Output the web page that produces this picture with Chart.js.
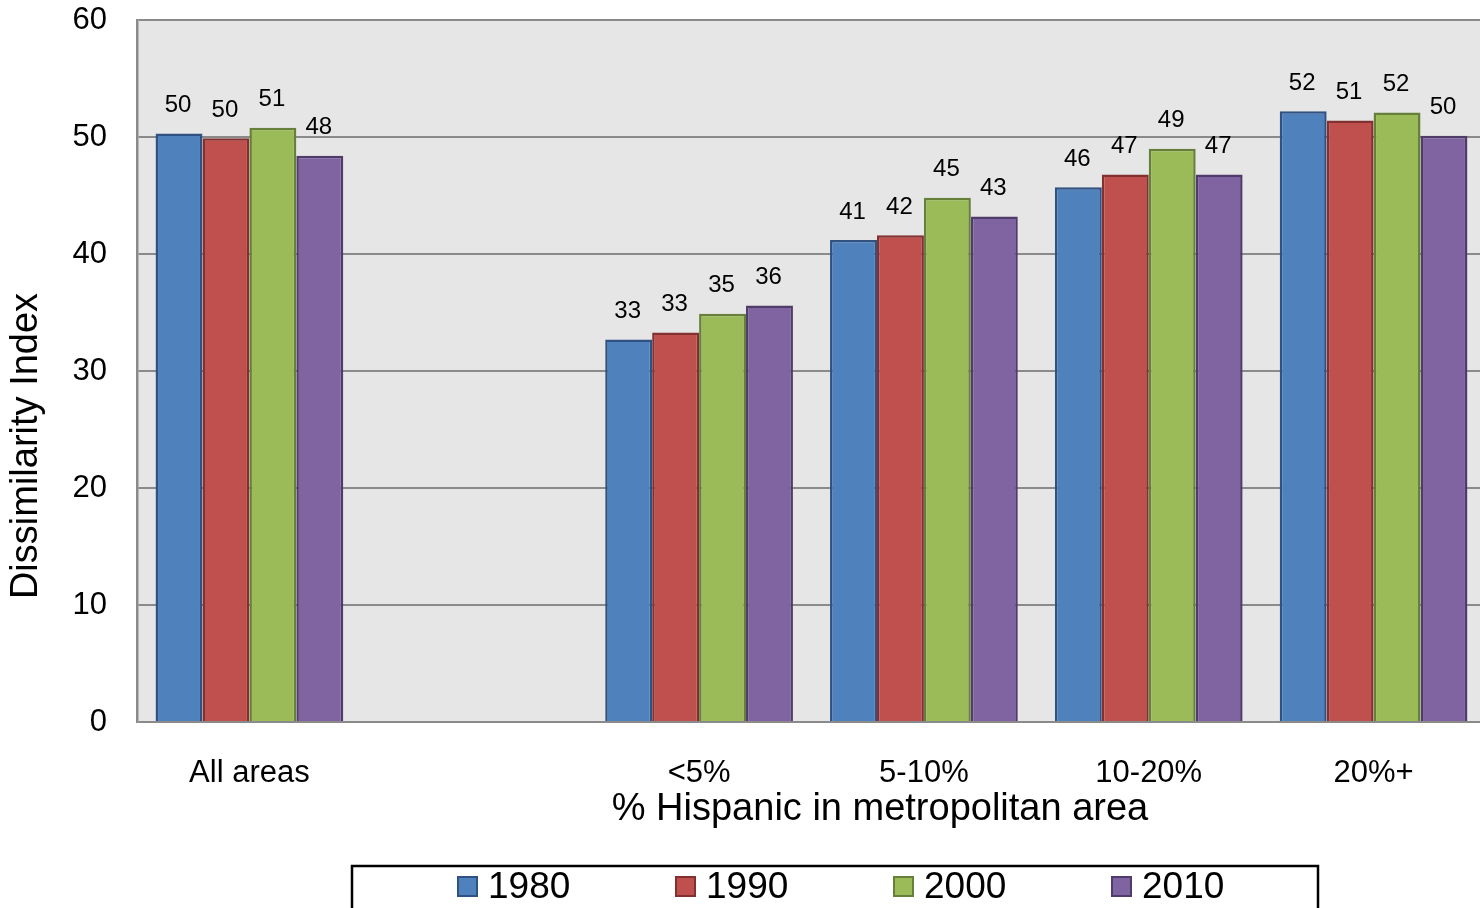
<!DOCTYPE html>
<html>
<head>
<meta charset="utf-8">
<script src="https://cdn.jsdelivr.net/npm/chart.js@4.4.1/dist/chart.umd.min.js"></script>
<style>
  html, body { margin: 0; padding: 0; background: #ffffff; overflow: hidden; width: 1480px; height: 908px; }
  canvas { display: block; }
</style>
</head>
<body>
<canvas id="c" width="1486" height="940"></canvas>
<script>
// Residential dissimilarity index by share of Hispanic population in metro area
const categories = ['All areas', '', '<5%', '5-10%', '10-20%', '20%+'];
const years = ['1980', '1990', '2000', '2010'];
const v1980 = [50.3, null, 32.7, 41.2, 45.7, 52.2];
const v1990 = [49.9, null, 33.3, 41.6, 46.8, 51.4];
const v2000 = [50.8, null, 34.9, 44.8, 49.0, 52.1];
const v2010 = [48.4, null, 35.6, 43.2, 46.8, 50.1];
const yTicks = [0, 10, 20, 30, 40, 50, 60];
const yTitle = 'Dissimilarity Index';
const xTitle = '% Hispanic in metropolitan area';

const fills = ['#4F81BD', '#C0504D', '#9BBB59', '#8064A2'];
const edges = ['#2F5283', '#833130', '#66803A', '#4F3C6A'];
const FONT = '"Liberation Sans", Arial, sans-serif';

const series = [v1980, v1990, v2000, v2010];

// grey plot background behind grid and bars
const plotBackground = {
  id: 'plotBackground',
  beforeDraw(chart) {
    const { ctx, chartArea: a } = chart;
    ctx.save();
    ctx.fillStyle = '#E6E6E6';
    ctx.fillRect(a.left, a.top, a.right - a.left, a.bottom - a.top);
    ctx.restore();
  }
};

// rounded value printed above every bar
const valueLabels = {
  id: 'valueLabels',
  afterDatasetsDraw(chart) {
    const { ctx } = chart;
    ctx.save();
    ctx.font = '24px ' + FONT;
    ctx.fillStyle = '#000000';
    ctx.textAlign = 'center';
    ctx.textBaseline = 'middle';
    chart.data.datasets.forEach((ds, i) => {
      chart.getDatasetMeta(i).data.forEach((bar, j) => {
        const v = ds.data[j];
        if (v === null || v === undefined) return;
        ctx.fillText(String(Math.round(v)), bar.x - 1, bar.y - 28);
      });
    });
    ctx.restore();
  }
};

// axis titles and the framed legend underneath
const titlesAndLegend = {
  id: 'titlesAndLegend',
  afterDraw(chart) {
    const { ctx } = chart;
    ctx.save();
    ctx.fillStyle = '#000000';
    ctx.textAlign = 'center';
    ctx.textBaseline = 'middle';
    ctx.font = '38px ' + FONT;
    ctx.fillText(xTitle, 880, 810);
    ctx.save();
    ctx.translate(27, 446);
    ctx.rotate(-Math.PI / 2);
    ctx.fillText(yTitle, 0, 0);
    ctx.restore();

    ctx.lineWidth = 2.5;
    ctx.strokeStyle = '#000000';
    ctx.strokeRect(352, 866, 966, 90);

    ctx.font = '37px ' + FONT;
    ctx.textAlign = 'left';
    chart.data.datasets.forEach((ds, i) => {
      const x = 457 + i * 218;
      ctx.fillStyle = ds.backgroundColor;
      ctx.fillRect(x, 876, 21, 21);
      ctx.lineWidth = 2;
      ctx.strokeStyle = ds.borderColor;
      ctx.strokeRect(x + 1, 877, 19, 19);
      ctx.fillStyle = '#000000';
      ctx.fillText(ds.label, x + 31, 888);
    });
    ctx.restore();
  }
};

new Chart(document.getElementById('c'), {
  type: 'bar',
  data: {
    labels: categories,
    datasets: years.map((y, i) => ({
      label: y,
      data: series[i],
      backgroundColor: fills[i],
      borderColor: edges[i],
      borderWidth: 2.5,
      borderSkipped: 'bottom',
      categoryPercentage: 0.835,
      barPercentage: 1.0
    }))
  },
  options: {
    responsive: false,
    animation: false,
    devicePixelRatio: 1,
    layout: { padding: { left: 0, top: 20, right: 0, bottom: 0 } },
    plugins: { legend: { display: false }, tooltip: { enabled: false } },
    scales: {
      x: {
        grid: { display: false, drawTicks: false },
        border: { display: false },
        ticks: { color: '#000000', font: { family: FONT, size: 31 }, padding: 33, maxRotation: 0, autoSkip: false },
        afterFit(scale) { scale.height = 218; scale.paddingLeft = 0; scale.paddingRight = 0; }
      },
      y: {
        min: 0,
        max: 60,
        afterBuildTicks(scale) { scale.ticks = yTicks.map(v => ({ value: v })); },
        grid: { color: '#8A8A8A', lineWidth: 2, drawTicks: false },
        border: { display: true, color: '#8A8A8A', width: 2.5 },
        ticks: { color: '#000000', font: { family: FONT, size: 31 }, padding: 30 },
        afterFit(scale) { scale.width = 137; scale.paddingTop = 0; scale.paddingBottom = 0; }
      }
    }
  },
  plugins: [plotBackground, valueLabels, titlesAndLegend]
});
</script>
</body>
</html>
